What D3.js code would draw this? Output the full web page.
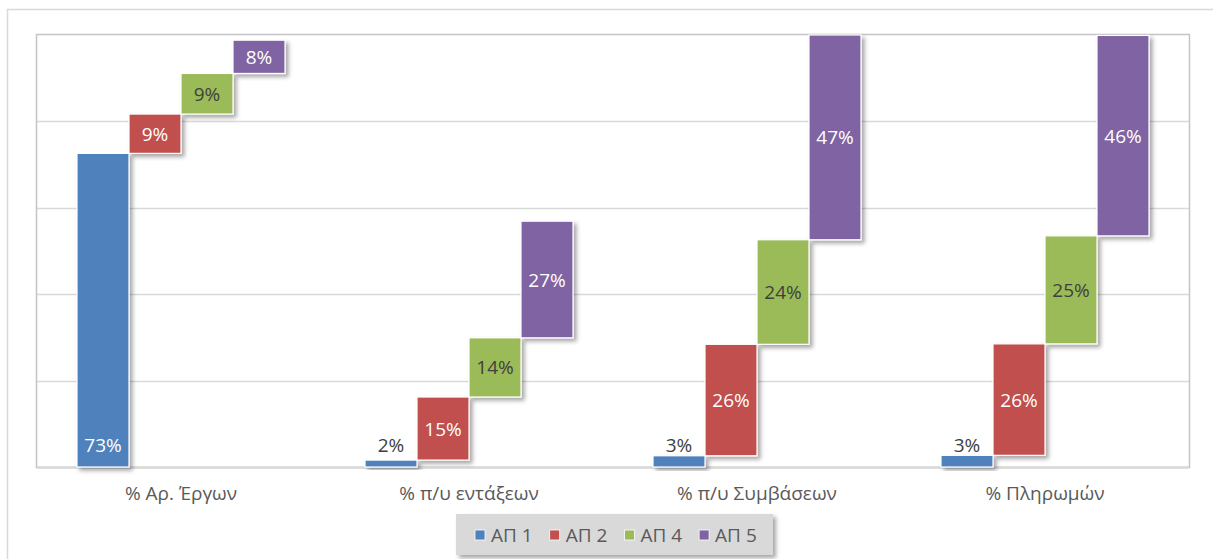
<!DOCTYPE html>
<html>
<head>
<meta charset="utf-8">
<script src="https://cdn.jsdelivr.net/npm/d3@7"></script>
<style>
  html, body { margin: 0; padding: 0; background: #fff; }
  svg { display: block; font-family: "Open Sans", "Noto Sans", sans-serif; }
</style>
</head>
<body>
<svg id="chart" width="1213" height="559"></svg>
<script>
const categories = ["% Αρ. Έργων", "% π/υ εντάξεων", "% π/υ Συμβάσεων", "% Πληρωμών"];
const seriesNames = ["ΑΠ 1", "ΑΠ 2", "ΑΠ 4", "ΑΠ 5"];
const ap1 = [72.6, 1.6, 2.6, 2.7];
const ap2 = [9.1, 14.6, 25.8, 25.8];
const ap4 = [9.4, 13.7, 24.2, 25.0];
const ap5 = [7.7, 27.0, 47.4, 46.4];
const yTicks = [0, 20, 40, 60, 80, 100];
const colors = ["#4F81BD", "#C0504D", "#9BBB59", "#8064A2"];

const seriesValues = [ap1, ap2, ap4, ap5];

const svg = d3.select("#chart");
const defs = svg.append("defs");
const f = defs.append("filter").attr("id", "shadow")
  .attr("x", "-20%").attr("y", "-20%").attr("width", "150%").attr("height", "150%");
f.append("feDropShadow").attr("dx", 3).attr("dy", 3).attr("stdDeviation", 2)
  .attr("flood-color", "#000").attr("flood-opacity", 0.35);

// outer chart area border
svg.append("rect").attr("x", 7.5).attr("y", 9.5).attr("width", 1300).attr("height", 700)
  .attr("fill", "#fff").attr("stroke", "#d9d9d9").attr("stroke-width", 1.5);

const plot = { left: 37, right: 1189, top: 35, bottom: 467 };

const x0 = d3.scaleBand().domain(categories).range([plot.left, plot.right])
  .paddingInner(80 / 288).paddingOuter(40 / 288);
const x1 = d3.scaleBand().domain(seriesNames).range([0, x0.bandwidth()]).padding(0);
const y = d3.scaleLinear().domain([0, 100]).range([plot.bottom, plot.top]);

// gridlines
svg.append("g").selectAll("line").data(yTicks.filter(t => t > 0 && t < 100)).join("line")
  .attr("x1", plot.left).attr("x2", plot.right)
  .attr("y1", d => Math.round(y(d)) + 0.5).attr("y2", d => Math.round(y(d)) + 0.5)
  .attr("stroke", "#d9d9d9").attr("stroke-width", 1.5);

// plot border
svg.append("rect").attr("x", plot.left - 0.5).attr("y", plot.top - 0.5)
  .attr("width", plot.right - plot.left + 1).attr("height", plot.bottom - plot.top + 1)
  .attr("fill", "none").attr("stroke", "#c4c4c4").attr("stroke-width", 1.5);

// x axis line
svg.append("line").attr("x1", plot.left).attr("x2", plot.right)
  .attr("y1", plot.bottom + 0.5).attr("y2", plot.bottom + 0.5)
  .attr("stroke", "#d9d9d9").attr("stroke-width", 2.5);

// build floating bars data
const bars = [];
categories.forEach((c, ci) => {
  let base = 0;
  seriesNames.forEach((s, si) => {
    const v = seriesValues[si][ci];
    bars.push({ cat: c, series: s, si, v, y0: base, y1: base + v });
    base += v;
  });
});

const fmt = v => d3.format(".0f")(v) + "%";

const gBars = svg.append("g");
seriesNames.forEach((s, si) => {
  const data = bars.filter(b => b.si === si);
  gBars.append("g").selectAll("rect").data(data).join("rect")
    .attr("x", d => x0(d.cat) + x1(d.series))
    .attr("width", x1.bandwidth())
    .attr("y", d => y(d.y1))
    .attr("height", d => y(d.y0) - y(d.y1))
    .attr("fill", colors[si])
    .attr("stroke", "#fff").attr("stroke-width", 1.2)
    .attr("filter", "url(#shadow)");
});

// data labels
svg.append("g").selectAll("text").data(bars).join("text")
  .attr("x", d => x0(d.cat) + x1(d.series) + x1.bandwidth() / 2)
  .attr("y", d => d.si === 0 ? y(0) - 15 : (y(d.y0) + y(d.y1)) / 2 + 7)
  .attr("text-anchor", "middle")
  .attr("font-size", 19)
  .attr("fill", d => {
    if (d.si === 0) return (y(d.y0) - y(d.y1)) > 30 ? "#fff" : "#404040";
    return d.si === 2 ? "#404040" : "#fff";
  })
  .text(d => fmt(d.v));

// category labels
svg.append("g").selectAll("text").data(categories).join("text")
  .attr("x", d => x0(d) + x0.bandwidth() / 2)
  .attr("y", 500)
  .attr("text-anchor", "middle")
  .attr("font-size", 19)
  .attr("fill", "#595959")
  .text(d => d);

// legend
const lg = svg.append("g");
lg.append("rect").attr("x", 456).attr("y", 514).attr("width", 317).attr("height", 41)
  .attr("fill", "#d9d9d9").attr("filter", "url(#shadow)");
const items = lg.selectAll("g").data(seriesNames).join("g")
  .attr("transform", (d, i) => `translate(${475 + i * 74.7},0)`);
items.append("rect").attr("x", 0).attr("y", 530).attr("width", 10).attr("height", 10)
  .attr("fill", (d, i) => colors[i]).attr("stroke", "#fff").attr("stroke-width", 0.8);
items.append("text").attr("x", 16).attr("y", 542)
  .attr("font-size", 19).attr("fill", "#595959").text(d => d);
</script>
</body>
</html>
